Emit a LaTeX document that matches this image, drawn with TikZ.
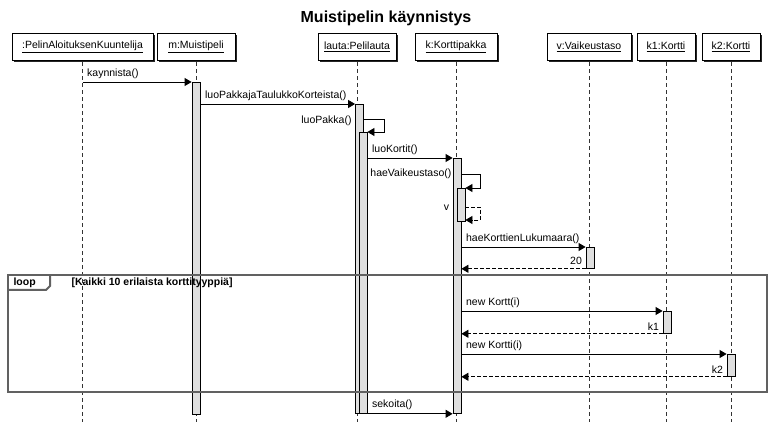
\documentclass[tikz,border=0pt]{standalone}
\usepackage{fontspec}
\setmainfont{Liberation Sans}
\usetikzlibrary{arrows.meta,shadows}

\tikzset{
  olio/.style={draw, line width=0.8pt, fill=white, minimum height=27pt, inner sep=2pt,
    drop shadow={shadow xshift=2pt, shadow yshift=-2pt, fill=black!85, opacity=1}},
  elinkaari/.style={line width=0.8pt, black!80, dash pattern=on 4pt off 3pt},
  aktiv/.style={draw, line width=0.8pt, fill=gray!25, minimum width=8pt, inner sep=0pt, anchor=north},
  viesti/.style={line width=0.8pt, -{Triangle[length=7pt,width=8pt]}},
  paluu/.style={viesti, dash pattern=on 4pt off 2pt},
  kehys/.style={line width=2pt, draw=black!62}
}

\begin{document}
\begin{tikzpicture}[x=1pt, y=-1pt, font=\fontsize{10.5}{12.6}\selectfont]
\useasboundingbox (0,0) rectangle (772,422);

% otsikko
\node[font=\fontsize{16}{19}\selectfont\bfseries] (otsikko) at (386,18) {Muistipelin käynnistys};

% oliot
\node[olio, minimum width=141pt] (kuuntelija) at (82.5,46.5) {\underline{:PelinAloituksenKuuntelija}};
\node[olio, minimum width=78pt] (peli) at (196,46.5) {\underline{m:Muistipeli}};
\node[olio, minimum width=78pt] (lauta) at (357,46.5) {\underline{lauta:Pelilauta}};
\node[olio, minimum width=82pt] (pakka) at (456,46.5) {\underline{k:Korttipakka}};
\node[olio, minimum width=84pt] (taso) at (589,46.5) {\underline{v:Vaikeustaso}};
\node[olio, minimum width=58pt] (kortti1) at (666,46.5) {\underline{k1:Kortti}};
\node[olio, minimum width=58pt] (kortti2) at (731,46.5) {\underline{k2:Kortti}};

% elinkaaret
\coordinate (pohja) at (0,422);
\foreach \o in {kuuntelija,peli,lauta,pakka,taso,kortti1,kortti2}
  \draw[elinkaari] ([yshift=-2pt]\o.south) -- (\o.south |- pohja);

% aktivaatiot
\node[aktiv, minimum height=332pt] (aPeli) at (196,82) {};
\node[aktiv, minimum height=309pt] (aLauta) at (359.5,104) {};
\node[aktiv, minimum height=281pt] (aLauta2) at (363,132) {};
\node[aktiv, minimum height=255pt] (aPakka) at (457,158) {};
\node[aktiv, minimum height=33pt] (aPakka2) at (461,188) {};
\node[aktiv, minimum height=21pt] (aTaso) at (590,247) {};
\node[aktiv, minimum height=22pt] (aKortti1) at (667,311) {};
\node[aktiv, minimum height=22pt] (aKortti2) at (731,354) {};

% loop-kehys
\draw[kehys] (8,275) rectangle (767,392);
\draw[kehys] (8,290) -- (46,290) -- (50,286) -- (50,275);
\node[anchor=west, font=\fontsize{10.5}{12.6}\selectfont\bfseries] (loopteksti) at (10,283) {loop};
\node[anchor=west, font=\fontsize{10.5}{12.6}\selectfont\bfseries] (ehto) at (68,283) {[Kaikki 10 erilaista korttityyppiä]};

% viestit
\draw[viesti] (kuuntelija |- aPeli.north) -- node[above right, pos=0, xshift=1pt]{kaynnista()} (aPeli.north west);
\draw[viesti] (aPeli.east |- aLauta.north) -- node[above right, pos=0, xshift=1pt]{luoPakkajaTaulukkoKorteista()} (aLauta.north west);

\draw[viesti] ([yshift=-15pt]aLauta.north east) -- ++(20,0) |- (aLauta2.north east);
\node[left] (luoPakka) at ([yshift=-17pt]aLauta.north west) {luoPakka()};

\draw[viesti] (aLauta2.east |- aPakka.north) -- node[above right, pos=0, xshift=1pt]{luoKortit()} (aPakka.north west);

\draw[viesti] ([yshift=-16pt]aPakka.north east) -- ++(19,0) |- (aPakka2.north east);
\node[left, inner sep=1pt] (haeVaikeustaso) at ([yshift=-16pt]aPakka.north west) {haeVaikeustaso()};
\draw[paluu] ([yshift=-19pt]aPakka2.north east) -- ++(15,0) |- ([yshift=-32pt]aPakka2.north east);
\node[left] (vPaluu) at ([yshift=-50pt]aPakka.north west) {v};

\draw[viesti] (aPakka.east |- aTaso.north) -- node[above right, pos=0, xshift=1pt]{haeKorttienLukumaara()} (aTaso.north west);
\draw[paluu] (aTaso.south west) -- node[above left, pos=0]{20} (aPakka.east |- aTaso.south);

\draw[viesti] (aPakka.east |- aKortti1.north) -- node[above right, pos=0, xshift=1pt]{new Kortt(i)} (aKortti1.north west);
\draw[paluu] (aKortti1.south west) -- node[above left, pos=0]{k1} (aPakka.east |- aKortti1.south);

\draw[viesti] (aPakka.east |- aKortti2.north) -- node[above right, pos=0, xshift=1pt]{new Kortti(i)} (aKortti2.north west);
\draw[paluu] (aKortti2.south west) -- node[above left, pos=0]{k2} (aPakka.east |- aKortti2.south);

\draw[viesti] (aLauta2.south east) -- node[above right, pos=0, xshift=1pt]{sekoita()} (aPakka.south west);

\end{tikzpicture}
\end{document}
